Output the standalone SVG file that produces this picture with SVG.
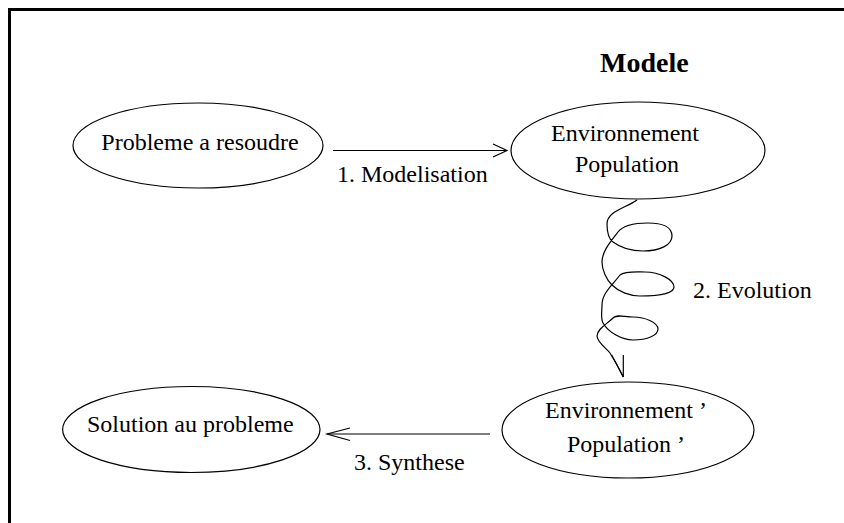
<svg xmlns="http://www.w3.org/2000/svg" width="844" height="523" viewBox="0 0 844 523">
  <style>
    .node { fill: none; stroke: #000; stroke-width: 1.2; }
    .lbl { font-family: "Liberation Serif", "Times New Roman", serif; font-size: 24px; fill: #000; }
    .title { font-family: "Liberation Serif", "Times New Roman", serif; font-size: 28px; font-weight: bold; fill: #000; }
    .wire { fill: none; stroke: #000; stroke-width: 1.2; stroke-linejoin: miter; }
  </style>

  <rect x="0" y="0" width="844" height="523" fill="#fff"/>
  <!-- page frame (only top and left edges fall inside the view) -->
  <rect x="9.5" y="9.5" width="900" height="600" fill="none" stroke="#000" stroke-width="3"/>

  <text class="title" x="600" y="72">Modele</text>

  <g id="probleme">
    <ellipse class="node" cx="198" cy="145.5" rx="125" ry="42.5"/>
    <text class="lbl" x="200" y="150" text-anchor="middle">Probleme a resoudre</text>
  </g>

  <g id="modele-initial">
    <ellipse class="node" cx="638" cy="150.5" rx="127" ry="48.5"/>
    <text class="lbl" x="551" y="141">Environnement</text>
    <text class="lbl" x="575" y="172">Population</text>
  </g>

  <g id="modele-final">
    <ellipse class="node" cx="628" cy="430" rx="126" ry="48"/>
    <text class="lbl" x="545" y="418">Environnement ’</text>
    <text class="lbl" x="567" y="452">Population ’</text>
  </g>

  <g id="solution">
    <ellipse class="node" cx="191.3" cy="429.5" rx="128.7" ry="43"/>
    <text class="lbl" x="87" y="432">Solution au probleme</text>
  </g>

  <g id="connectors">
    <!-- 1. Modelisation -->
    <line class="wire" x1="333" y1="150.5" x2="507" y2="150.5"/>
    <polyline class="wire" points="493,144 507,150.5 493,157"/>
    <text class="lbl" x="337" y="182">1. Modelisation</text>

    <!-- 2. Evolution : looping spline -->
    <path class="wire" d="M637,200
      C626.6,207.8 607,211 607,224
      C607,230 608.2,238.4 613,242
      C621,248 633,251 643,251
      C660,251 672,245 672,236
      C672,227 662,223 648,223
      C638,223 624,224 618,232
      C611.4,240.8 602,251 602,262
      C602,270 606.4,279.4 612,285
      C619,292 630,296 640,296
      C660,296 674,293 674,287
      C674,280 660,272 645,272
      C636,272 625,271 620,275
      C612.8,284.6 602,293 602,305
      C602,311 600.5,318.6 603,323
      C608.5,332.6 622,340 633,340
      C648,340 658,335 658,329
      C658,323 646,317 633,317
      C624,317 617,314 613,318
      C607,324 597,329 597,336
      C597,342 606,348 610,353
      C615,361 619,368 623.3,377"/>
    <polyline class="wire" points="611.7,355 623.3,377 623.3,355"/>
    <text class="lbl" x="693" y="298">2. Evolution</text>

    <!-- 3. Synthese -->
    <line class="wire" x1="490" y1="434" x2="327" y2="434"/>
    <polyline class="wire" points="350,428 327,434 350,440.5"/>
    <text class="lbl" x="354" y="470">3. Synthese</text>
  </g>
</svg>
